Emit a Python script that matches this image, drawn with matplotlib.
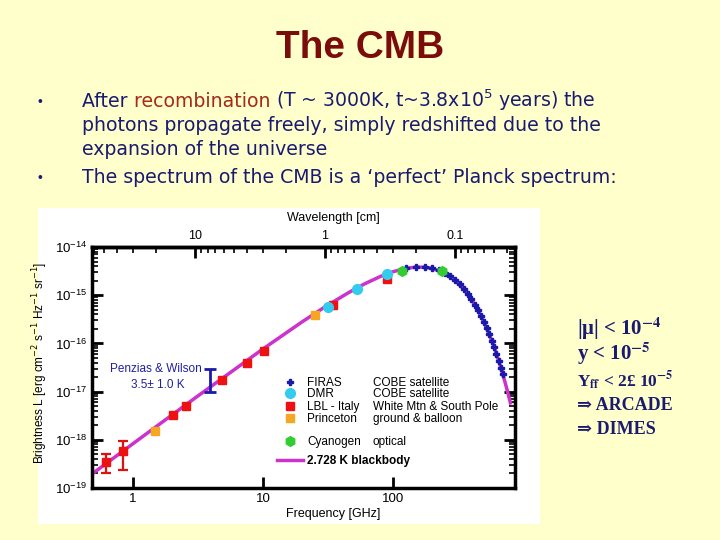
import matplotlib
matplotlib.use("Agg")
import matplotlib.pyplot as plt
import matplotlib.patches as patches
from matplotlib.legend import Legend

plt.rcParams['font.family'] = ['Liberation Sans', 'DejaVu Sans']

# 2.728 K blackbody (GHz, erg cm^-2 s^-1 Hz^-1 sr^-1)
bb_freq = [0.48, 1, 3, 10, 20, 30, 45, 60, 80, 100, 125, 150, 175, 200, 250,
           300, 350, 400, 450, 500, 550, 600, 650, 700, 750, 800]
bb_bright = [1.92e-19, 8.31e-19, 7.35e-18, 7.67e-17, 2.80e-16, 5.73e-16,
             1.11e-15, 1.70e-15, 2.45e-15, 3.07e-15, 3.59e-15, 3.83e-15,
             3.81e-15, 3.60e-15, 2.87e-15, 2.04e-15, 1.34e-15, 8.30e-16,
             4.90e-16, 2.79e-16, 1.54e-16, 8.30e-17, 4.38e-17, 2.27e-17,
             1.16e-17, 5.83e-18]

firas_freq = [125, 150, 175, 200, 225, 250, 275, 300, 325, 350, 375, 400,
              425, 450, 475, 500, 525, 550, 575, 600, 625, 650, 675, 700]
firas_bright = [3.59e-15, 3.83e-15, 3.81e-15, 3.60e-15, 3.27e-15, 2.87e-15,
                2.45e-15, 2.04e-15, 1.67e-15, 1.34e-15, 1.06e-15, 8.30e-16,
                6.41e-16, 4.90e-16, 3.71e-16, 2.79e-16, 2.08e-16, 1.54e-16,
                1.13e-16, 8.30e-17, 6.04e-17, 4.38e-17, 3.16e-17, 2.27e-17]

dmr_freq = [31.5, 53, 90]
dmr_bright = [5.6e-16, 1.33e-15, 2.75e-15]

lbl_freq = [0.62, 0.84, 2.03, 2.56, 4.8, 7.5, 10.2, 34.5, 90]
lbl_bright = [3.5e-19, 5.9e-19, 3.2e-18, 5.1e-18, 1.78e-17, 4.0e-17, 6.8e-17,
              6.4e-16, 2.2e-15]
lbl_err_freq = [0.62, 0.84]
lbl_err_low = [2.05e-19, 2.37e-19]
lbl_err_high = [5.1e-19, 9.5e-19]

princeton_freq = [1.48, 25]
princeton_bright = [1.55e-18, 3.8e-16]

cyan_freq = [117, 238]
cyan_bright = [3.2e-15, 3.15e-15]

pw_freq = 3.9
pw_low, pw_high = 1.0e-17, 2.9e-17

legend_rows = [("FIRAS", "COBE satellite"),
               ("DMR", "COBE satellite"),
               ("LBL - Italy", "White Mtn & South Pole"),
               ("Princeton", "ground & balloon"),
               ("Cyanogen", "optical"),
               ("2.728 K blackbody", "")]

navy = '#1a1a70'
fig = plt.figure(figsize=(7.2, 5.4), dpi=100, facecolor='#ffffcc')

# pasted chart picture background
fig.patches.append(patches.Rectangle((38/720, 1-524/540), 502/720, 316/540,
                                     transform=fig.transFigure,
                                     facecolor='white', edgecolor='none', zorder=-5))

fig.text(0.5, 1-48/540, "The CMB", ha='center', va='center', fontsize=28,
         fontweight='bold', color='#7b0c0c')

# bullet text, with the coloured word placed after measuring
r = fig.canvas.get_renderer()
bfont = dict(family='DejaVu Sans', fontsize=13.6, va='baseline')

def runs(x, y, parts):
    for s, c in parts:
        t = fig.text(x, y, s, color=c, **bfont)
        bb = t.get_window_extent(renderer=r)
        x = bb.x1 / 720

runs(82/720, 1-107/540, [("After ", navy), ("recombination ", '#a52a1a'),
                         ("(T ~ 3000K, t~3.8x10$^5$ years) the", navy)])
fig.text(82/720, 1-131/540, "photons propagate freely, simply redshifted due to the",
         color=navy, **bfont)
fig.text(82/720, 1-155/540, "expansion of the universe", color=navy, **bfont)
fig.text(82/720, 1-183/540, "The spectrum of the CMB is a \u2018perfect\u2019 Planck spectrum:",
         color=navy, **bfont)
for yy in (106, 182):
    fig.text(38/720, 1-yy/540, "\u2022", color=navy, fontsize=10, va='baseline')

# right hand notes
serif = ['Liberation Serif', 'DejaVu Serif']
fig.text(577/720, 1-329/540, "|\u03bc| < 10$^{\\mathbf{-4}}$", family=serif, fontsize=15,
         fontweight='bold', color=navy, va='center', math_fontfamily='stix')
fig.text(577/720, 1-354/540, "y < 10$^{\\mathbf{-5}}$", family=serif, fontsize=15,
         fontweight='bold', color=navy, va='center', math_fontfamily='stix')
fig.text(577/720, 1-381/540, "Y$_{\\mathbf{ff}}$ < 2\u00a3 10$^{\\mathbf{-5}}$", family=serif,
         fontsize=12.5, fontweight='bold', color=navy, va='center', math_fontfamily='stix')
fig.text(577/720, 1-405/540, "\u21d2 ARCADE", family=serif, fontsize=13,
         fontweight='bold', color=navy, va='center')
fig.text(577/720, 1-429/540, "\u21d2 DIMES", family=serif, fontsize=13,
         fontweight='bold', color=navy, va='center')

# chart
ax = fig.add_axes([92/720, 1-488/540, 423/720, 241/540])
ax.set_facecolor('white')
ax.set_xscale('log')
ax.set_yscale('log')
ax.set_xlim(0.484, 868)
ax.set_ylim(1e-19, 1e-14)

h_bb, = ax.plot(bb_freq, bb_bright, color='#cc33cc', lw=2.5, zorder=2)
ax.errorbar(lbl_err_freq, lbl_bright[:2],
            yerr=[[b - lo for b, lo in zip(lbl_bright[:2], lbl_err_low)],
                  [hi - b for b, hi in zip(lbl_bright[:2], lbl_err_high)]],
            fmt='none', ecolor='#dd1111', elinewidth=1.6, capsize=3.5, capthick=1.6, zorder=3)
h_lbl, = ax.plot(lbl_freq, lbl_bright, 's', color='#ee1111', ms=6, ls='none', zorder=4)
h_pr, = ax.plot(princeton_freq, princeton_bright, 's', color='#f5a623', ms=6, ls='none', zorder=4)
h_dmr, = ax.plot(dmr_freq, dmr_bright, 'o', color='#33ccee', ms=7, ls='none', zorder=5)
h_fir, = ax.plot(firas_freq, firas_bright, 'P', color='#1a1aaa', ms=5, ls='none', zorder=5)
h_cy, = ax.plot(cyan_freq, cyan_bright, 'h', color='#33cc33', ms=7, ls='none', zorder=6)
ax.errorbar([pw_freq], [(pw_low + pw_high) / 2],
            yerr=[[(pw_high - pw_low) / 2], [(pw_high - pw_low) / 2]],
            fmt='none', ecolor='#1a1aaa', elinewidth=2, capsize=4, capthick=2, zorder=3)

ax.text(0.26, 0.494, "Penzias & Wilson", transform=ax.transAxes, ha='right',
        va='center', color='#2020a0', fontsize=8.5)
ax.text(0.156, 0.427, "3.5\u00b1 1.0 K", transform=ax.transAxes, ha='center',
        va='center', color='#2020a0', fontsize=8.5)

# legend, one row at a time
handles = [h_fir, h_dmr, h_lbl, h_pr, h_cy, h_bb]
row_y = [0.4357, 0.39, 0.336, 0.286, 0.191, 0.112]
for h, (lab, note), yy in zip(handles, legend_rows, row_y):
    lg = Legend(ax, [h], [lab], loc='center left', bbox_to_anchor=(0.437, yy),
                frameon=False, borderpad=0, borderaxespad=0, handlelength=2.25,
                handletextpad=0.3,
                prop={'weight': 'bold' if note == "" else 'normal', 'size': 8.5})
    ax.add_artist(lg)
    if note:
        ax.text(0.664, yy, note, transform=ax.transAxes, va='center',
                fontsize=8.5, color='black')

for s in ax.spines.values():
    s.set_linewidth(2.5)
ax.tick_params(which='both', direction='in', right=True, top=False)
ax.tick_params(which='major', length=8, width=2, labelsize=9.5)
ax.tick_params(which='minor', length=4, width=1.2)
ax.tick_params(axis='x', which='minor', bottom=False)
ax.set_xticks([1, 10, 100])
ax.set_xticklabels(['1', '10', '100'])
ax.set_xlabel("Frequency [GHz]", fontsize=9)
ax.xaxis.set_label_coords(0.57, -0.085)
ax.set_ylabel("Brightness L [erg cm$^{-2}$ s$^{-1}$ Hz$^{-1}$ sr$^{-1}$]", fontsize=8.5)
ax.yaxis.set_label_coords(-0.1, 0.52)

sec = ax.secondary_xaxis('top', functions=(lambda f: 30 / f, lambda l: 30 / l))
sec.spines['top'].set_linewidth(2.5)
sec.tick_params(which='both', direction='in')
sec.tick_params(which='major', length=8, width=2, labelsize=9)
sec.tick_params(which='minor', length=4, width=1.2)
sec.set_xticks([10, 1, 0.1])
sec.set_xticklabels(['10', '1', '0.1'])
ax.text(0.57, 1.12, "Wavelength [cm]", transform=ax.transAxes, ha='center',
        va='center', fontsize=9)

fig.savefig("out.png", dpi=100, facecolor=fig.get_facecolor())
